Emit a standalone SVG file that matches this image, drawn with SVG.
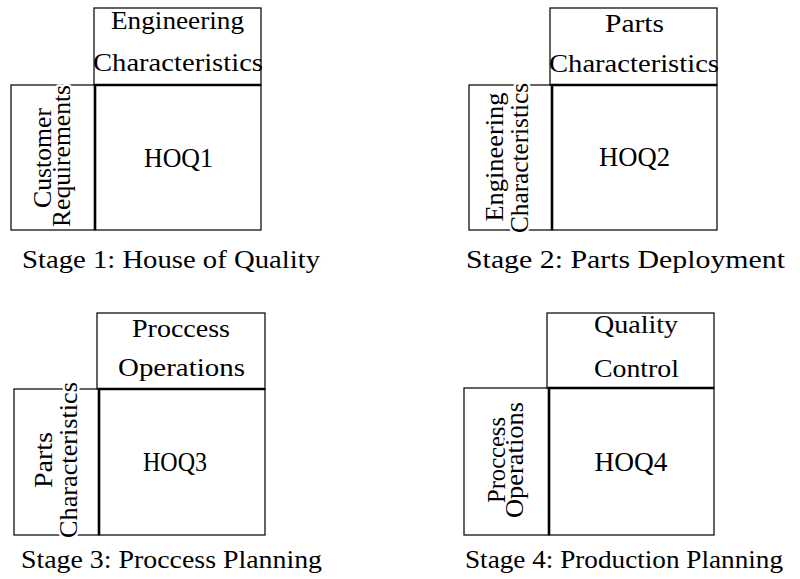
<svg xmlns="http://www.w3.org/2000/svg" width="800" height="579" viewBox="0 0 800 579">
<style>
.box{fill:none;stroke:#111;stroke-width:1.3}
.thick{fill:none;stroke:#000;stroke-width:2.6}
text{font-family:"Liberation Serif","Times New Roman",serif;font-size:25px;fill:#000}
.c{text-anchor:middle}
.hoq{text-anchor:middle;font-size:27px}
.rot{text-anchor:middle;stroke:#fff;stroke-width:5;paint-order:stroke;stroke-linejoin:round}
</style>
<rect width="800" height="579" fill="#fff"/>
<g id="stage1">
<g id="s1-top">
<rect class="box" x="94" y="8" width="167" height="77"/>
<text class="c" x="177.5" y="29" textLength="133" lengthAdjust="spacingAndGlyphs">Engineering</text>
<text class="c" x="178" y="71" textLength="170" lengthAdjust="spacingAndGlyphs">Characteristics</text>
</g>
<g id="s1-left">
<rect class="box" x="11" y="85" width="84" height="145"/>
<text class="rot" transform="translate(51,158) rotate(-90)" textLength="100" lengthAdjust="spacingAndGlyphs">Customer</text>
<text class="rot" transform="translate(70,156) rotate(-90)" textLength="142" lengthAdjust="spacingAndGlyphs">Requirements</text>
</g>
<g id="s1-main">
<rect class="box" x="95" y="85" width="166" height="145"/>
<path class="thick" d="M95,230 V85 H261"/>
<text class="hoq" x="178.5" y="167" textLength="69" lengthAdjust="spacingAndGlyphs">HOQ1</text>
</g>
<text id="s1-caption" x="22" y="268" textLength="298" lengthAdjust="spacingAndGlyphs">Stage 1: House of Quality</text>
</g>
<g id="stage2">
<g id="s2-top">
<rect class="box" x="550" y="8" width="167" height="77"/>
<text class="c" x="634.5" y="32" textLength="59" lengthAdjust="spacingAndGlyphs">Parts</text>
<text class="c" x="634" y="72" textLength="170" lengthAdjust="spacingAndGlyphs">Characteristics</text>
</g>
<g id="s2-left">
<rect class="box" x="469" y="85" width="83" height="145"/>
<text class="rot" transform="translate(503,157) rotate(-90)" textLength="129" lengthAdjust="spacingAndGlyphs">Engineering</text>
<text class="rot" transform="translate(528,158) rotate(-90)" textLength="150" lengthAdjust="spacingAndGlyphs">Characteristics</text>
</g>
<g id="s2-main">
<rect class="box" x="552" y="85" width="165" height="145"/>
<path class="thick" d="M552,230 V85 H717"/>
<text class="hoq" x="634.5" y="166" textLength="71" lengthAdjust="spacingAndGlyphs">HOQ2</text>
</g>
<text id="s2-caption" x="466" y="268" textLength="319" lengthAdjust="spacingAndGlyphs">Stage 2: Parts Deployment</text>
</g>
<g id="stage3">
<g id="s3-top">
<rect class="box" x="97" y="313" width="168" height="76"/>
<text class="c" x="181" y="337" textLength="98" lengthAdjust="spacingAndGlyphs">Proccess</text>
<text class="c" x="181.5" y="376" textLength="127" lengthAdjust="spacingAndGlyphs">Operations</text>
</g>
<g id="s3-left">
<rect class="box" x="14" y="389" width="85" height="146"/>
<text class="rot" transform="translate(52,460) rotate(-90)" textLength="56" lengthAdjust="spacingAndGlyphs">Parts</text>
<text class="rot" transform="translate(77,460) rotate(-90)" textLength="156" lengthAdjust="spacingAndGlyphs">Characteristics</text>
</g>
<g id="s3-main">
<rect class="box" x="99" y="389" width="166" height="146"/>
<path class="thick" d="M99,535 V389 H265"/>
<text class="hoq" x="175" y="471" textLength="64" lengthAdjust="spacingAndGlyphs">HOQ3</text>
</g>
<text id="s3-caption" x="21" y="568" textLength="301" lengthAdjust="spacingAndGlyphs">Stage 3: Proccess Planning</text>
</g>
<g id="stage4">
<g id="s4-top">
<rect class="box" x="547" y="313" width="167" height="75"/>
<text class="c" x="636" y="333" textLength="84" lengthAdjust="spacingAndGlyphs">Quality</text>
<text class="c" x="636.5" y="377" textLength="85" lengthAdjust="spacingAndGlyphs">Control</text>
</g>
<g id="s4-left">
<rect class="box" x="464" y="388" width="85" height="147"/>
<text class="rot" transform="translate(505,460) rotate(-90)" textLength="86" lengthAdjust="spacingAndGlyphs">Proccess</text>
<text class="rot" transform="translate(523,460) rotate(-90)" textLength="116" lengthAdjust="spacingAndGlyphs">Operations</text>
</g>
<g id="s4-main">
<rect class="box" x="549" y="388" width="165" height="147"/>
<path class="thick" d="M549,535 V388 H714"/>
<text class="hoq" x="631" y="471" textLength="73" lengthAdjust="spacingAndGlyphs">HOQ4</text>
</g>
<text id="s4-caption" x="465" y="568" textLength="318" lengthAdjust="spacingAndGlyphs">Stage 4: Production Planning</text>
</g>
<g id="connectors"/>
</svg>
